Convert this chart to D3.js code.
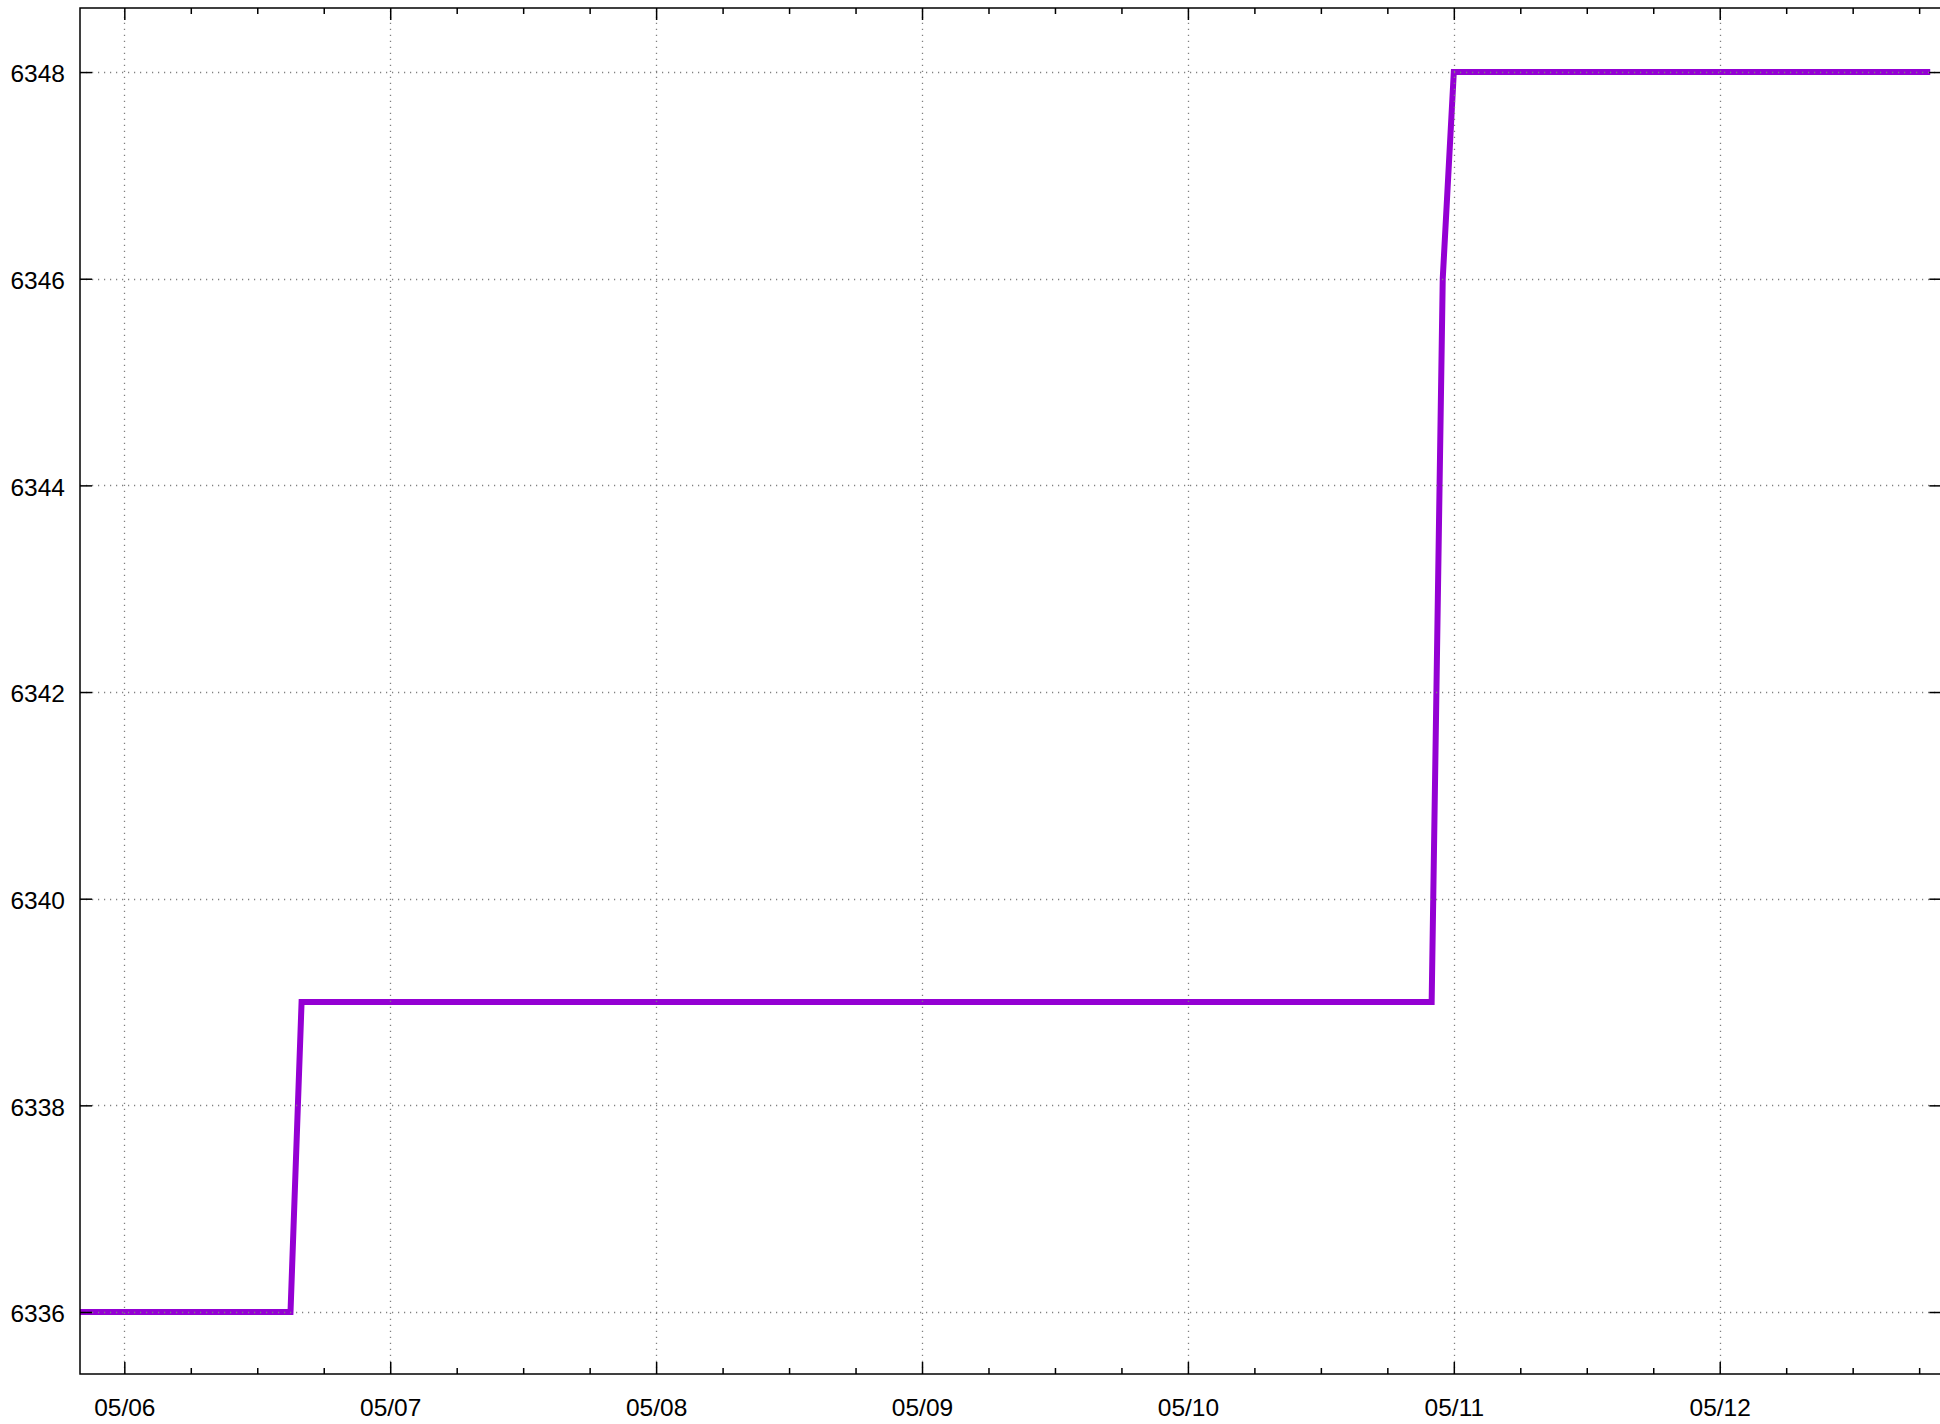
<!DOCTYPE html>
<html>
<head>
<meta charset="utf-8">
<script src="https://cdn.jsdelivr.net/npm/d3@7"></script>
<style>
html,body{margin:0;padding:0;background:#fff;overflow:hidden;}
svg{display:block;font-family:"Liberation Sans",Arial,sans-serif;}
</style>
</head>
<body>
<svg id="chart" width="1940" height="1424"></svg>
<script>
// Data (UTC timestamps, value)
const times = ["2024-05-05T20:00","2024-05-06T15:00","2024-05-06T16:00","2024-05-10T22:00","2024-05-10T23:00","2024-05-11T00:00","2024-05-12T19:00"];
const values = [6336, 6336, 6339, 6339, 6346, 6348, 6348];
const yTicks = [6336, 6338, 6340, 6342, 6344, 6346, 6348];
const xDomain = ["2024-05-05T20:00","2024-05-12T20:00"];
const yDomain = [6335.4, 6348.62];

const parse = s => new Date(s + ":00Z");
const data = times.map((t,i)=>({t:parse(t), v:values[i]}));

const svg = d3.select("#chart");
const L = 80, T = 8, B = 1374, R = 80 + 7*265.9;

const x = d3.scaleUtc().domain(xDomain.map(parse)).range([L, R]);
const y = d3.scaleLinear().domain(yDomain).range([B, T]);

const majorX = d3.utcDay.range(parse(xDomain[0]), parse(xDomain[1]));
const minorX = d3.utcHour.every(6).range(parse(xDomain[0]), parse(xDomain[1])).filter(d => d.getUTCHours() !== 0);

svg.append("defs").append("clipPath").attr("id","clip")
  .append("rect").attr("x",L).attr("y",T).attr("width",R-L).attr("height",B-T);

// line
const line = d3.line().x(d=>x(d.t)).y(d=>y(d.v));
svg.append("path").datum(data).attr("d",line)
  .attr("fill","none").attr("stroke","#9400D3").attr("stroke-width",6)
  .attr("stroke-linejoin","miter").attr("clip-path","url(#clip)");

// grid (front)
const grid = svg.append("g").attr("stroke","#808080").attr("stroke-width",1.3)
  .attr("stroke-dasharray","1.2,4.8").attr("clip-path","url(#clip)");
grid.selectAll(".gx").data(majorX).enter().append("line")
  .attr("x1",d=>Math.round(x(d))+0.5).attr("x2",d=>Math.round(x(d))+0.5).attr("y1",B).attr("y2",T);
grid.selectAll(".gy").data(yTicks).enter().append("line")
  .attr("y1",d=>Math.round(y(d))+0.5).attr("y2",d=>Math.round(y(d))+0.5).attr("x1",L).attr("x2",R);

// axes with d3 axis generators (ticks both sides)
const tickStyle = g => { g.select(".domain").remove(); g.selectAll("line").attr("stroke","#000").attr("stroke-width",1.5); };

svg.append("g").attr("transform",`translate(0,${B})`)
  .call(d3.axisBottom(x).tickValues(majorX).tickFormat(d3.utcFormat("%m/%d")).tickSize(-12).tickPadding(25))
  .call(tickStyle)
  .call(g=>g.selectAll("text").attr("font-size",24.5).attr("fill","#000").attr("font-family","Liberation Sans, Arial, sans-serif"));
svg.append("g").attr("transform",`translate(0,${B})`)
  .call(d3.axisBottom(x).tickValues(minorX).tickFormat("").tickSize(-6)).call(tickStyle);
svg.append("g").attr("transform",`translate(0,${T})`)
  .call(d3.axisTop(x).tickValues(majorX).tickFormat("").tickSize(-12)).call(tickStyle);
svg.append("g").attr("transform",`translate(0,${T})`)
  .call(d3.axisTop(x).tickValues(minorX).tickFormat("").tickSize(-6)).call(tickStyle);

svg.append("g").attr("transform",`translate(${L},0)`)
  .call(d3.axisLeft(y).tickValues(yTicks).tickFormat(d3.format("d")).tickSize(-12).tickPadding(15))
  .call(tickStyle)
  .call(g=>g.selectAll("text").attr("font-size",24.5).attr("fill","#000").attr("dy","0.4em").attr("font-family","Liberation Sans, Arial, sans-serif"));
svg.append("g").attr("transform",`translate(${R},0)`)
  .call(d3.axisRight(y).tickValues(yTicks).tickFormat("").tickSize(-12)).call(tickStyle);

// border
svg.append("rect").attr("x",L).attr("y",T).attr("width",R-L).attr("height",B-T)
  .attr("fill","none").attr("stroke","#000").attr("stroke-width",1.5);
</script>
</body>
</html>
